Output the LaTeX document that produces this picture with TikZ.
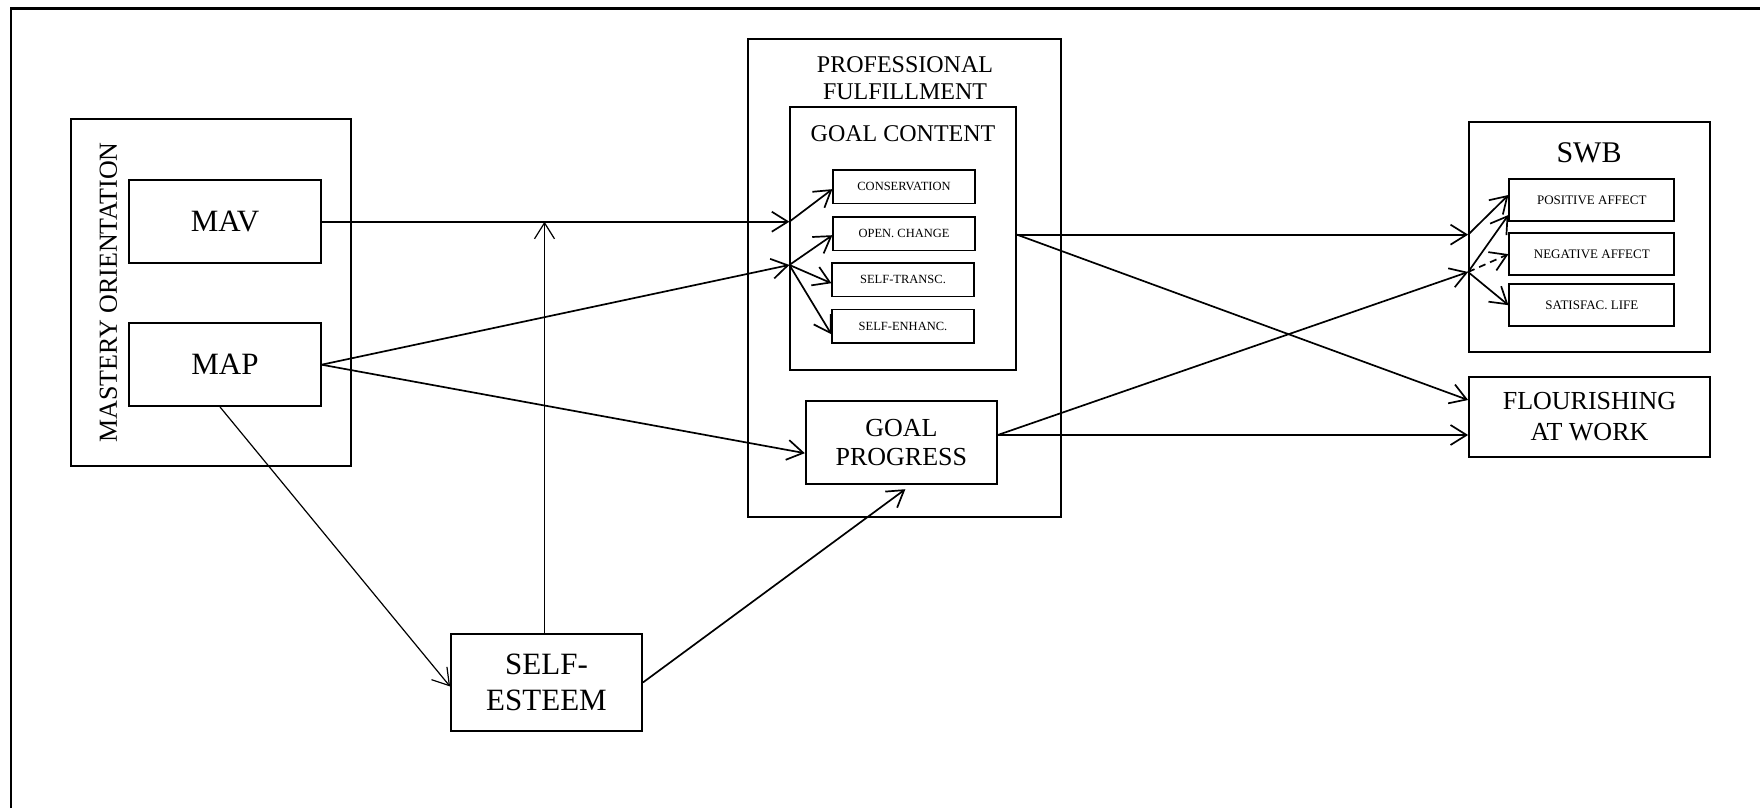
\documentclass[tikz,border=0pt]{standalone}
\usepackage{fontspec}
\setmainfont{Liberation Serif}
\usetikzlibrary{arrows.meta,calc}

\newcommand{\fsz}[2]{\fontsize{#1}{#2}\selectfont}

\begin{document}
\begin{tikzpicture}[x=1pt,y=-1pt,
  box/.style={draw,line width=1.8pt,inner sep=0pt,align=center},
  smallbox/.style={box,minimum width=141.4pt,minimum height=33.6pt,font=\fsz{12.5}{14}},
  swbbox/.style={box,minimum width=165pt,minimum height=41.6pt,font=\fsz{13}{15}},
  label/.style={inner sep=0pt,align=center},
  link/.style={line width=1.7pt,-{Straight Barb[length=16pt,width=20pt]}},
  thinlink/.style={link,line width=1.2pt},
]
\useasboundingbox (0,0) rectangle (1760,808);

% outer frame (left and top edges)
\draw[line width=2.7pt] (11,808) -- (11,8.7) -- (1760,8.7);

% mastery orientation group
\node[box,minimum width=280.3pt,minimum height=346.7pt] (mo) at (210.85,292.65) {};
\node[label,rotate=90,font=\fsz{26}{30}] (molab) at (108.3,292.5) {MASTERY ORIENTATION};
\node[box,minimum width=191.4pt,minimum height=83.3pt,font=\fsz{31}{36}] (mav) at (225,221.7) {MAV};
\node[box,minimum width=191.4pt,minimum height=82.7pt,font=\fsz{31}{36}] (map) at (225,364.7) {MAP};

% professional fulfillment group
\node[box,minimum width=312.4pt,minimum height=478.3pt] (pf) at (904.5,278.15) {};
\node[label,font=\fsz{24}{27.3}] (pflab) at (905,78) {PROFESSIONAL\\FULFILLMENT};
\node[box,minimum width=225.7pt,minimum height=262.7pt] (gc) at (903.15,238.65) {};
\node[label,font=\fsz{24}{27}] (gclab) at (903,133.4) {GOAL CONTENT};
\node[smallbox] (cons) at (904,186.65) {CONSERVATION};
\node[smallbox] (open) at (904,233.7) {OPEN. CHANGE};
\node[smallbox] (trans) at (903,279.7) {SELF-TRANSC.};
\node[smallbox] (enh) at (903,326.3) {SELF-ENHANC.};
\node[box,minimum width=191.3pt,minimum height=83.3pt,font=\fsz{26}{29.4}] (gp) at (901.35,442.65) {GOAL\\PROGRESS};

% subjective well-being group
\node[box,minimum width=241pt,minimum height=229.4pt] (swb) at (1589.5,237) {};
\node[label,font=\fsz{30}{34}] (swblab) at (1589,153) {SWB};
\node[swbbox] (pa) at (1591.8,200) {POSITIVE AFFECT};
\node[swbbox] (na) at (1591.8,254.15) {NEGATIVE AFFECT};
\node[swbbox] (sl) at (1591.8,305.15) {SATISFAC. LIFE};

\node[box,minimum width=241pt,minimum height=80pt,font=\fsz{26}{30.5}] (fl) at (1589.5,416.7) {FLOURISHING\\AT WORK};

\node[box,minimum width=191pt,minimum height=97pt,font=\fsz{31}{36.7}] (se) at (546.5,682.5) {SELF-\\ESTEEM};

% junction points on the group borders
\coordinate (ga) at (gc.west |- mav.east);
\coordinate (gb) at ([yshift=-26.3pt]gc.west);
\coordinate (gcout) at ([yshift=4pt]gc.east);
\coordinate (sa) at (gcout -| swb.west);
\coordinate (sb) at ([yshift=-35pt]swb.west);
\coordinate (gpout) at ([yshift=7.7pt]gp.east);
\coordinate (setop) at ([xshift=-2pt]se.north);
\coordinate (sm) at (setop |- mav.east);

% connectors
\draw[link] (mav.east) -- (ga);
\draw[link] (ga) -- ([yshift=-2.5pt]cons.west);
\draw[link] (map.east) -- (gb);
\draw[link] (gb) -- ([yshift=-1.5pt]open.west);
\draw[link] (gb) -- ([yshift=-3.5pt]trans.west);
\draw[link] (gb) -- ([yshift=-8pt]enh.west);
\draw[link] (map.east) -- ([yshift=-10.5pt]gp.west);
\draw[thinlink] ([xshift=-5pt]map.south) -- ([yshift=-4pt]se.west);
\draw[thinlink] (setop) -- (sm);
\draw[link] (se.east) -- ([shift={(4pt,-4pt)}]gp.south);
\draw[link] (gcout) -- (sa);
\draw[link] (sa) -- ([yshift=5pt]pa.west);
\draw[link] (gcout) -- ([yshift=16.7pt]fl.west);
\draw[link] (gpout) -- ([yshift=-18.3pt]fl.west);
\draw[link] (gpout) -- (sb);
\draw[link] (sb) -- ([yshift=-15pt]pa.west);
\draw[link,dash pattern=on 7pt off 5pt] (sb) -- (na.west);
\draw[link] (sb) -- (sl.west);
\end{tikzpicture}
\end{document}
